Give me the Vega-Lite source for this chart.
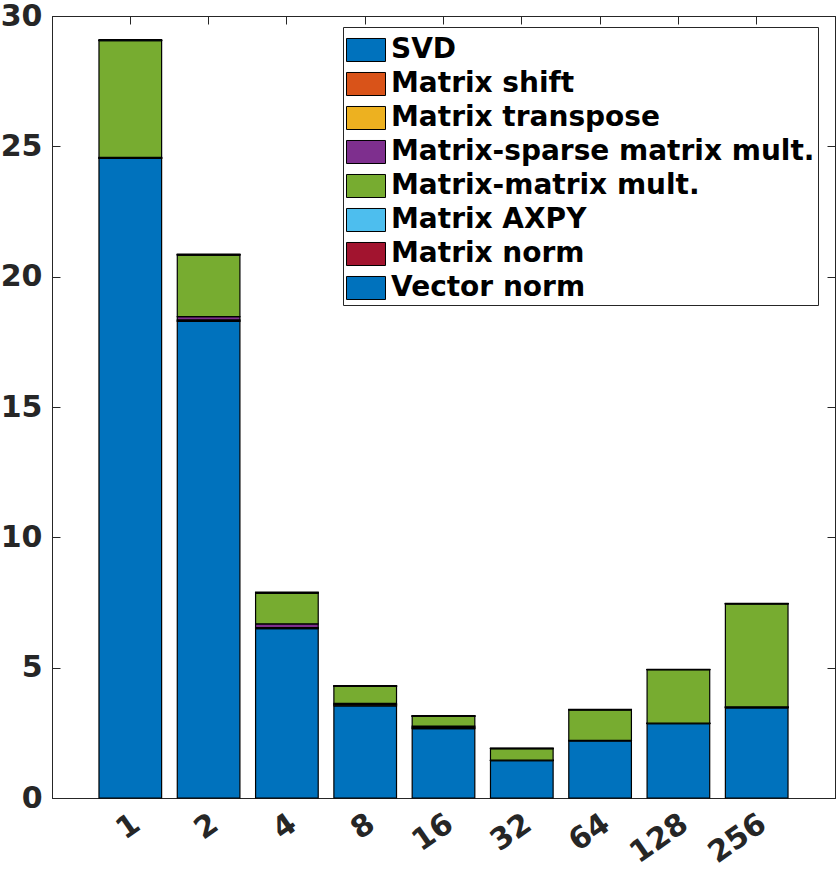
{
  "$schema": "https://vega.github.io/schema/vega-lite/v6.json",
  "width": 783,
  "height": 782,
  "autosize": {"type": "none"},
  "padding": {"left": 52, "top": 16, "right": 5, "bottom": 74},
  "background": "white",
  "data": {
    "values": [
      {"n": 1, "task": "SVD", "k": 1, "time": 24.54},
      {"n": 1, "task": "Matrix shift", "k": 2, "time": 0.01},
      {"n": 1, "task": "Matrix transpose", "k": 3, "time": 0.01},
      {"n": 1, "task": "Matrix-sparse matrix mult.", "k": 4, "time": 0.02},
      {"n": 1, "task": "Matrix-matrix mult.", "k": 5, "time": 4.47},
      {"n": 1, "task": "Matrix AXPY", "k": 6, "time": 0.01},
      {"n": 1, "task": "Matrix norm", "k": 7, "time": 0.01},
      {"n": 1, "task": "Vector norm", "k": 8, "time": 0.02},
      {"n": 2, "task": "SVD", "k": 1, "time": 18.28},
      {"n": 2, "task": "Matrix shift", "k": 2, "time": 0.03},
      {"n": 2, "task": "Matrix transpose", "k": 3, "time": 0.03},
      {"n": 2, "task": "Matrix-sparse matrix mult.", "k": 4, "time": 0.13},
      {"n": 2, "task": "Matrix-matrix mult.", "k": 5, "time": 2.36},
      {"n": 2, "task": "Matrix AXPY", "k": 6, "time": 0.01},
      {"n": 2, "task": "Matrix norm", "k": 7, "time": 0.01},
      {"n": 2, "task": "Vector norm", "k": 8, "time": 0.02},
      {"n": 4, "task": "SVD", "k": 1, "time": 6.5},
      {"n": 4, "task": "Matrix shift", "k": 2, "time": 0.02},
      {"n": 4, "task": "Matrix transpose", "k": 3, "time": 0.02},
      {"n": 4, "task": "Matrix-sparse matrix mult.", "k": 4, "time": 0.14},
      {"n": 4, "task": "Matrix-matrix mult.", "k": 5, "time": 1.18},
      {"n": 4, "task": "Matrix AXPY", "k": 6, "time": 0.01},
      {"n": 4, "task": "Matrix norm", "k": 7, "time": 0.01},
      {"n": 4, "task": "Vector norm", "k": 8, "time": 0.02},
      {"n": 8, "task": "SVD", "k": 1, "time": 3.53},
      {"n": 8, "task": "Matrix shift", "k": 2, "time": 0.03},
      {"n": 8, "task": "Matrix transpose", "k": 3, "time": 0.03},
      {"n": 8, "task": "Matrix-sparse matrix mult.", "k": 4, "time": 0.04},
      {"n": 8, "task": "Matrix-matrix mult.", "k": 5, "time": 0.65},
      {"n": 8, "task": "Matrix AXPY", "k": 6, "time": 0.01},
      {"n": 8, "task": "Matrix norm", "k": 7, "time": 0.01},
      {"n": 8, "task": "Vector norm", "k": 8, "time": 0.01},
      {"n": 16, "task": "SVD", "k": 1, "time": 2.66},
      {"n": 16, "task": "Matrix shift", "k": 2, "time": 0.03},
      {"n": 16, "task": "Matrix transpose", "k": 3, "time": 0.03},
      {"n": 16, "task": "Matrix-sparse matrix mult.", "k": 4, "time": 0.04},
      {"n": 16, "task": "Matrix-matrix mult.", "k": 5, "time": 0.37},
      {"n": 16, "task": "Matrix AXPY", "k": 6, "time": 0.01},
      {"n": 16, "task": "Matrix norm", "k": 7, "time": 0.01},
      {"n": 16, "task": "Vector norm", "k": 8, "time": 0.01},
      {"n": 32, "task": "SVD", "k": 1, "time": 1.43},
      {"n": 32, "task": "Matrix shift", "k": 2, "time": 0.01},
      {"n": 32, "task": "Matrix transpose", "k": 3, "time": 0.005},
      {"n": 32, "task": "Matrix-sparse matrix mult.", "k": 4, "time": 0.005},
      {"n": 32, "task": "Matrix-matrix mult.", "k": 5, "time": 0.44},
      {"n": 32, "task": "Matrix AXPY", "k": 6, "time": 0.005},
      {"n": 32, "task": "Matrix norm", "k": 7, "time": 0.005},
      {"n": 32, "task": "Vector norm", "k": 8, "time": 0.01},
      {"n": 64, "task": "SVD", "k": 1, "time": 2.19},
      {"n": 64, "task": "Matrix shift", "k": 2, "time": 0.01},
      {"n": 64, "task": "Matrix transpose", "k": 3, "time": 0.005},
      {"n": 64, "task": "Matrix-sparse matrix mult.", "k": 4, "time": 0.005},
      {"n": 64, "task": "Matrix-matrix mult.", "k": 5, "time": 1.17},
      {"n": 64, "task": "Matrix AXPY", "k": 6, "time": 0.005},
      {"n": 64, "task": "Matrix norm", "k": 7, "time": 0.005},
      {"n": 64, "task": "Vector norm", "k": 8, "time": 0.01},
      {"n": 128, "task": "SVD", "k": 1, "time": 2.85},
      {"n": 128, "task": "Matrix shift", "k": 2, "time": 0.01},
      {"n": 128, "task": "Matrix transpose", "k": 3, "time": 0.005},
      {"n": 128, "task": "Matrix-sparse matrix mult.", "k": 4, "time": 0.005},
      {"n": 128, "task": "Matrix-matrix mult.", "k": 5, "time": 2.05},
      {"n": 128, "task": "Matrix AXPY", "k": 6, "time": 0.005},
      {"n": 128, "task": "Matrix norm", "k": 7, "time": 0.005},
      {"n": 128, "task": "Vector norm", "k": 8, "time": 0.01},
      {"n": 256, "task": "SVD", "k": 1, "time": 3.46},
      {"n": 256, "task": "Matrix shift", "k": 2, "time": 0.015},
      {"n": 256, "task": "Matrix transpose", "k": 3, "time": 0.015},
      {"n": 256, "task": "Matrix-sparse matrix mult.", "k": 4, "time": 0.01},
      {"n": 256, "task": "Matrix-matrix mult.", "k": 5, "time": 3.95},
      {"n": 256, "task": "Matrix AXPY", "k": 6, "time": 0.005},
      {"n": 256, "task": "Matrix norm", "k": 7, "time": 0.005},
      {"n": 256, "task": "Vector norm", "k": 8, "time": 0.01}
    ]
  },
  "layer": [
    {
      "mark": {"type": "bar", "stroke": "black", "strokeWidth": 1.2},
      "encoding": {
        "x": {
          "field": "n",
          "type": "ordinal",
          "scale": {"paddingInner": 0.2, "paddingOuter": 0.6},
          "axis": {
            "orient": "bottom",
            "title": null,
            "labelAngle": -35,
            "labelAlign": "right",
            "labelBaseline": "top",
            "labelOffset": -2,
            "labelPadding": 18,
            "tickSize": -8
          }
        },
        "y": {
          "field": "time",
          "type": "quantitative",
          "stack": "zero",
          "scale": {"domain": [0, 30], "nice": false},
          "axis": {
            "orient": "left",
            "title": null,
            "values": [0, 5, 10, 15, 20, 25, 30],
            "labelPadding": 18,
            "tickSize": -8
          }
        },
        "color": {
          "field": "task",
          "type": "nominal",
          "scale": {
            "domain": ["SVD", "Matrix shift", "Matrix transpose", "Matrix-sparse matrix mult.", "Matrix-matrix mult.", "Matrix AXPY", "Matrix norm", "Vector norm"],
            "range": ["#0072BD", "#D95319", "#EDB120", "#7E2F8E", "#77AC30", "#4DBEEE", "#A2142F", "#0072BD"]
          },
          "legend": {
            "title": null,
            "orient": "none",
            "legendX": 291,
            "legendY": 11,
            "padding": 3,
            "strokeColor": "#262626",
            "fillColor": "white",
            "symbolType": "M-1,-0.59H1V0.59H-1Z",
            "symbolSize": 1521,
            "symbolStrokeColor": "black",
            "symbolStrokeWidth": 1,
            "symbolOpacity": 1,
            "labelFont": "DejaVu Sans",
            "labelFontSize": 28,
            "labelFontWeight": "bold",
            "labelColor": "black",
            "labelOffset": 5,
            "labelLimit": 600,
            "rowPadding": -2
          }
        },
        "order": {"field": "k", "type": "quantitative", "sort": "ascending"}
      }
    },
    {
      "mark": {"type": "bar", "opacity": 0},
      "encoding": {
        "x": {
          "field": "n",
          "type": "ordinal",
          "axis": {"orient": "top", "title": null, "labels": false, "tickSize": -8}
        },
        "y": {
          "field": "time",
          "type": "quantitative",
          "stack": "zero",
          "axis": {
            "orient": "right",
            "title": null,
            "values": [0, 5, 10, 15, 20, 25, 30],
            "labels": false,
            "tickSize": -8
          }
        }
      }
    }
  ],
  "resolve": {"axis": {"x": "independent", "y": "independent"}},
  "config": {
    "view": {"stroke": "#262626", "strokeWidth": 1},
    "axis": {
      "grid": false,
      "domainColor": "#262626",
      "tickColor": "#262626",
      "labelColor": "#262626",
      "labelFont": "DejaVu Sans",
      "labelFontSize": 30,
      "labelFontWeight": "bold"
    }
  }
}
